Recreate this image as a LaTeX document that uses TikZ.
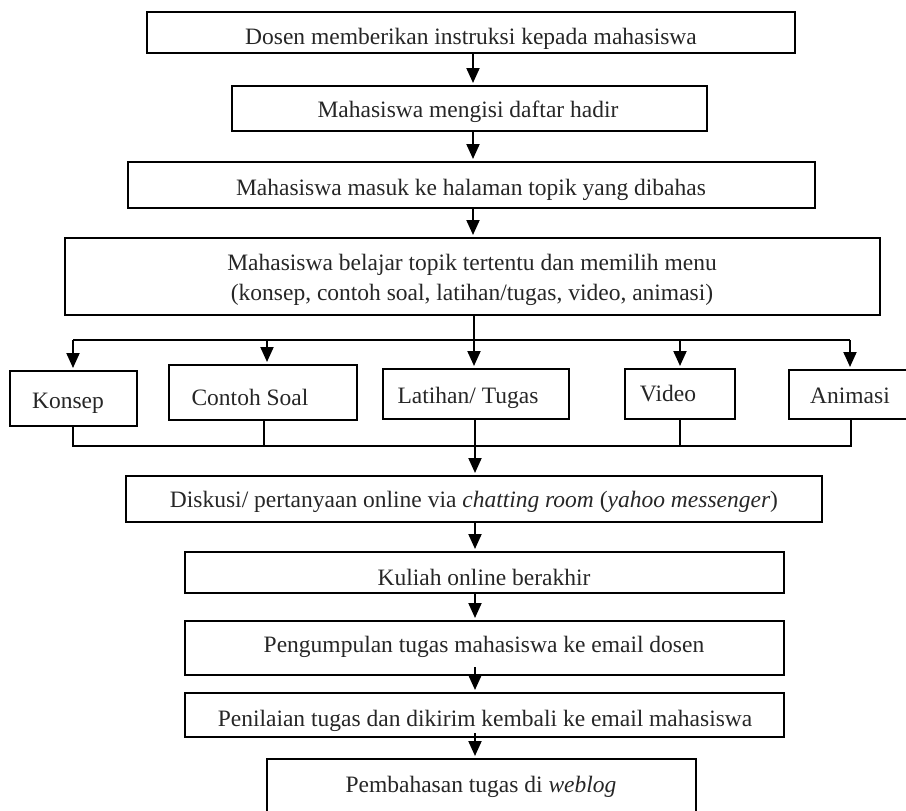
\documentclass[tikz,border=0pt]{standalone}
\usepackage{fontspec}
\setmainfont{Liberation Serif}
\usetikzlibrary{arrows.meta,fit}
\begin{document}
\begin{tikzpicture}[x=1pt,y=-1pt,
  box/.style={draw, line width=2pt, inner sep=0pt, rectangle},
  txt/.style={anchor=base, inner sep=0pt, font=\fontsize{23.5}{30}\selectfont, text=black!85},
  arr/.style={line width=2pt, -{Triangle[length=15pt,width=13pt]}, shorten >=2pt},
  ln/.style={line width=2pt}]
\useasboundingbox (0,0) rectangle (906,811);
% boxes
\node[box, fit={(147,12) (795,53)}] (b1) {};
\node[box, fit={(232,86) (707,131)}] (b2) {};
\node[box, fit={(128,162) (815,208)}] (b3) {};
\node[box, fit={(65,238) (880,315)}] (b4) {};
\node[box, fit={(10,371) (137,426)}] (k1) {};
\node[box, fit={(169,365) (357,420)}] (k2) {};
\node[box, fit={(383,369) (569,419)}] (k3) {};
\node[box, fit={(625,369) (735,419)}] (k4) {};
\node[box, fit={(789,370) (912,419)}] (k5) {};
\node[box, fit={(126,476) (822,522)}] (b5) {};
\node[box, fit={(185,552) (784,593)}] (b6) {};
\node[box, fit={(185,621) (784,675)}] (b7) {};
\node[box, fit={(185,693) (784,737)}] (b8) {};
\node[box, fit={(267,759) (696,815)}] (b9) {};
% texts
\node[txt] (t1) at (471,44) {Dosen memberikan instruksi kepada mahasiswa};
\node[txt] (t2) at (468,117) {Mahasiswa mengisi daftar hadir};
\node[txt] (t3) at (471,195) {Mahasiswa masuk ke halaman topik yang dibahas};
\node[txt] (t4a) at (472,270) {Mahasiswa belajar topik tertentu dan memilih menu};
\node[txt] (t4b) at (472,300) {(konsep, contoh soal, latihan/tugas, video, animasi)};
\node[txt] (tk1) at (68,408) {Konsep};
\node[txt] (tk2) at (250,405) {Contoh Soal};
\node[txt] (tk3) at (468,403) {Latihan/ Tugas};
\node[txt] (tk4) at (668,401) {Video};
\node[txt] (tk5) at (850,403) {Animasi};
\node[txt] (t5) at (474,507) {Diskusi/ pertanyaan online via \textit{chatting room} (\textit{yahoo messenger})};
\node[txt] (t6) at (484,585) {Kuliah online berakhir};
\node[txt] (t7) at (484,652) {Pengumpulan tugas mahasiswa ke email dosen};
\node[txt] (t8) at (485,726) {Penilaian tugas dan dikirim kembali ke email mahasiswa};
\node[txt] (t9) at (481,792) {Pembahasan tugas di \textit{weblog}};
% connector coordinates
\coordinate (ax) at (473,0);
\coordinate (bx) at (475,0);
\coordinate (sp) at (474,340);
\coordinate (c1) at (73,340);
\coordinate (c2) at (267,340);
\coordinate (c3) at (474,340);
\coordinate (c4) at (680,340);
\coordinate (c5) at (850,340);
\coordinate (m1) at (73,446);
\coordinate (m2) at (264,446);
\coordinate (m3) at (475,446);
\coordinate (m4) at (680,446);
\coordinate (m5) at (851,446);
% connectors
\draw[arr] (ax |- b1.south) -- (ax |- b2.north);
\draw[arr] (ax |- b2.south) -- (ax |- b3.north);
\draw[arr] (ax |- b3.south) -- (ax |- b4.north);
\draw[ln] (sp |- b4.south) -- (sp);
\draw[ln] (c1) -- (c5);
\draw[arr] (c1) -- (c1 |- k1.north);
\draw[arr] (c2) -- (c2 |- k2.north);
\draw[arr] (c3) -- (c3 |- k3.north);
\draw[arr] (c4) -- (c4 |- k4.north);
\draw[arr] (c5) -- (c5 |- k5.north);
\draw[ln] (m1 |- k1.south) -- (m1) -- (m5) -- (m5 |- k5.south);
\draw[ln] (m2 |- k2.south) -- (m2);
\draw[ln] (m3 |- k3.south) -- (m3);
\draw[ln] (m4 |- k4.south) -- (m4);
\draw[arr] (m3) -- (bx |- b5.north);
\draw[arr] (bx |- b5.south) -- (bx |- b6.north);
\draw[arr] (bx |- b6.south) -- (bx |- b7.north);
\draw[arr] ([yshift=9pt]bx |- b7.south) -- (bx |- b8.north);
\draw[arr] ([yshift=5pt]bx |- b8.south) -- (bx |- b9.north);
\end{tikzpicture}
\end{document}
